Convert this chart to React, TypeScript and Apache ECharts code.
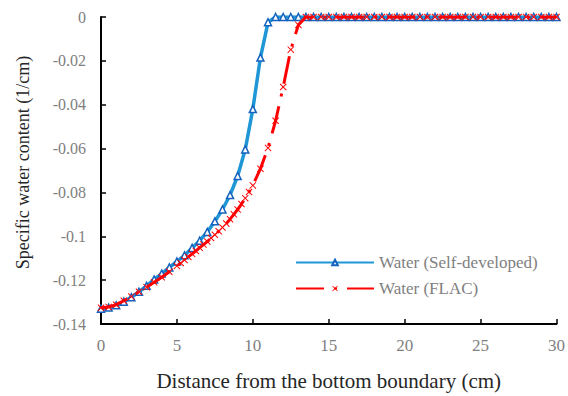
import React, { useEffect, useRef } from "react";
import * as echarts from "echarts";

const xBlue = [0, 0.5, 1, 1.5, 2, 2.5, 3, 3.5, 4, 4.5, 5, 5.5, 6, 6.5, 7, 7.5, 8, 8.5, 9, 9.5, 10, 10.5, 11, 11.5, 12, 12.5, 13, 13.5, 14, 14.5, 15, 15.5, 16, 16.5, 17, 17.5, 18, 18.5, 19, 19.5, 20, 20.5, 21, 21.5, 22, 22.5, 23, 23.5, 24, 24.5, 25, 25.5, 26, 26.5, 27, 27.5, 28, 28.5, 29, 29.5, 30];
const yBlue = [-0.1330, -0.1325, -0.1315, -0.1298, -0.1278, -0.1253, -0.1226, -0.1197, -0.1170, -0.1142, -0.1115, -0.1087, -0.1053, -0.1020, -0.0980, -0.0932, -0.0878, -0.0812, -0.0725, -0.0604, -0.0420, -0.0185, -0.0024,
  0, 0, 0, 0, 0, 0, 0, 0, 0, 0, 0, 0, 0, 0, 0, 0, 0, 0, 0, 0, 0, 0, 0, 0, 0, 0, 0, 0, 0, 0, 0, 0, 0, 0, 0, 0, 0, 0];

const xRed = [0, 0.5, 1, 1.5, 2, 2.5, 3, 3.5, 4, 4.5, 5, 5.25, 5.5, 5.75, 6, 6.25, 6.5, 6.75, 7, 7.25, 7.5, 7.75, 8, 8.25, 8.5, 8.75, 9, 9.25, 9.5, 9.75, 10, 10.5, 11, 11.5, 12, 12.5, 13, 13.5, 14, 14.5, 15, 15.5, 16, 16.5, 17, 17.5, 18, 18.5, 19, 19.5, 20, 20.5, 21, 21.5, 22, 22.5, 23, 23.5, 24, 24.5, 25, 25.5, 26, 26.5, 27, 27.5, 28, 28.5, 29, 29.5, 30];
const yRed = [-0.1326, -0.1322, -0.1312, -0.1294, -0.1275, -0.1253, -0.1232, -0.1210, -0.1187, -0.1162, -0.1135, -0.1122, -0.1108, -0.1094, -0.1080, -0.1067, -0.1052, -0.1038, -0.1024, -0.1008, -0.0993, -0.0977, -0.0960, -0.0942, -0.0922, -0.0900, -0.0878, -0.0853, -0.0826, -0.0798, -0.0768, -0.0692, -0.0597, -0.0473, -0.0319, -0.0149, -0.0036,
  0, 0, 0, 0, 0, 0, 0, 0, 0, 0, 0, 0, 0, 0, 0, 0, 0, 0, 0, 0, 0, 0, 0, 0, 0, 0, 0, 0, 0, 0, 0, 0, 0, 0];

const seriesNames = ["Water (Self-developed)", "Water (FLAC)"];
const xTitle = "Distance from the bottom boundary (cm)";
const yTitle = "Specific water content (1/cm)";

const FONT = "Liberation Serif";
const CROSS = "path://M1,0L5,4L9,0L10,1L6,5L10,9L9,10L5,6L1,10L0,9L4,5L0,1Z";

export default function App() {
  const ref = useRef<HTMLDivElement>(null);
  useEffect(() => {
    if (!ref.current) return;
    const chart = echarts.init(ref.current, null, { renderer: "svg" });
    const blueData = xBlue.map((x, i) => [x, yBlue[i]]);
    const redData = xRed.map((x, i) => [x, yRed[i]]);
    chart.setOption({
      animation: false,
      backgroundColor: "#ffffff",
      textStyle: { fontFamily: FONT },
      grid: { left: 101, right: 6, top: 17, bottom: 66, containLabel: false },
      legend: {
        orient: "vertical",
        left: 290,
        top: 249,
        itemWidth: 78,
        itemHeight: 7,
        itemGap: 9,
        textStyle: { fontFamily: FONT, fontSize: 17, lineHeight: 17, color: "#808080" },
        data: seriesNames,
      },
      xAxis: {
        type: "value",
        min: 0,
        max: 30,
        interval: 5,
        name: xTitle,
        nameLocation: "middle",
        nameGap: 46,
        nameTextStyle: { fontFamily: FONT, fontSize: 21, color: "#262626" },
        axisLine: { onZero: false, lineStyle: { color: "#000", width: 2 } },
        axisTick: { inside: true, length: 5, lineStyle: { color: "#000", width: 1.5 } },
        axisLabel: { fontFamily: FONT, fontSize: 17, color: "#808080", margin: 13 },
        splitLine: { show: false },
      },
      yAxis: {
        type: "value",
        min: -0.14,
        max: 0,
        interval: 0.02,
        name: yTitle,
        nameLocation: "middle",
        nameGap: 69,
        nameTextStyle: { fontFamily: FONT, fontSize: 18, color: "#262626", padding: [0, 0, 0, 16] },
        axisLine: { show: true, onZero: false, lineStyle: { color: "#000", width: 2 } },
        axisTick: { show: true, inside: true, length: 5, lineStyle: { color: "#000", width: 1.5 } },
        axisLabel: {
          fontFamily: FONT,
          fontSize: 16,
          color: "#808080",
          margin: 15,
          formatter: (v: number) => String(parseFloat(v.toFixed(2))),
        },
        splitLine: { show: false },
      },
      series: [
        {
          name: seriesNames[0],
          type: "line",
          data: blueData,
          symbol: "triangle",
          symbolSize: 7,
          showAllSymbol: true,
          lineStyle: { color: "#1f97d6", width: 3.5 },
          itemStyle: { color: "#ffffff", borderColor: "#1462bd", borderWidth: 1.5 },
          z: 2,
        },
        {
          name: seriesNames[1],
          type: "line",
          data: redData,
          symbol: CROSS,
          symbolSize: 7,
          showAllSymbol: true,
          lineStyle: { color: "#ff0000", width: 3, type: [28, 10, 3, 10] },
          itemStyle: { color: "#ff0000" },
          z: 3,
        },
      ],
    });
    return () => chart.dispose();
  }, []);
  return (
    <div
      ref={ref}
      style={{ position: "fixed", left: 0, top: 0, width: 568, height: 396 }}
    />
  );
}
